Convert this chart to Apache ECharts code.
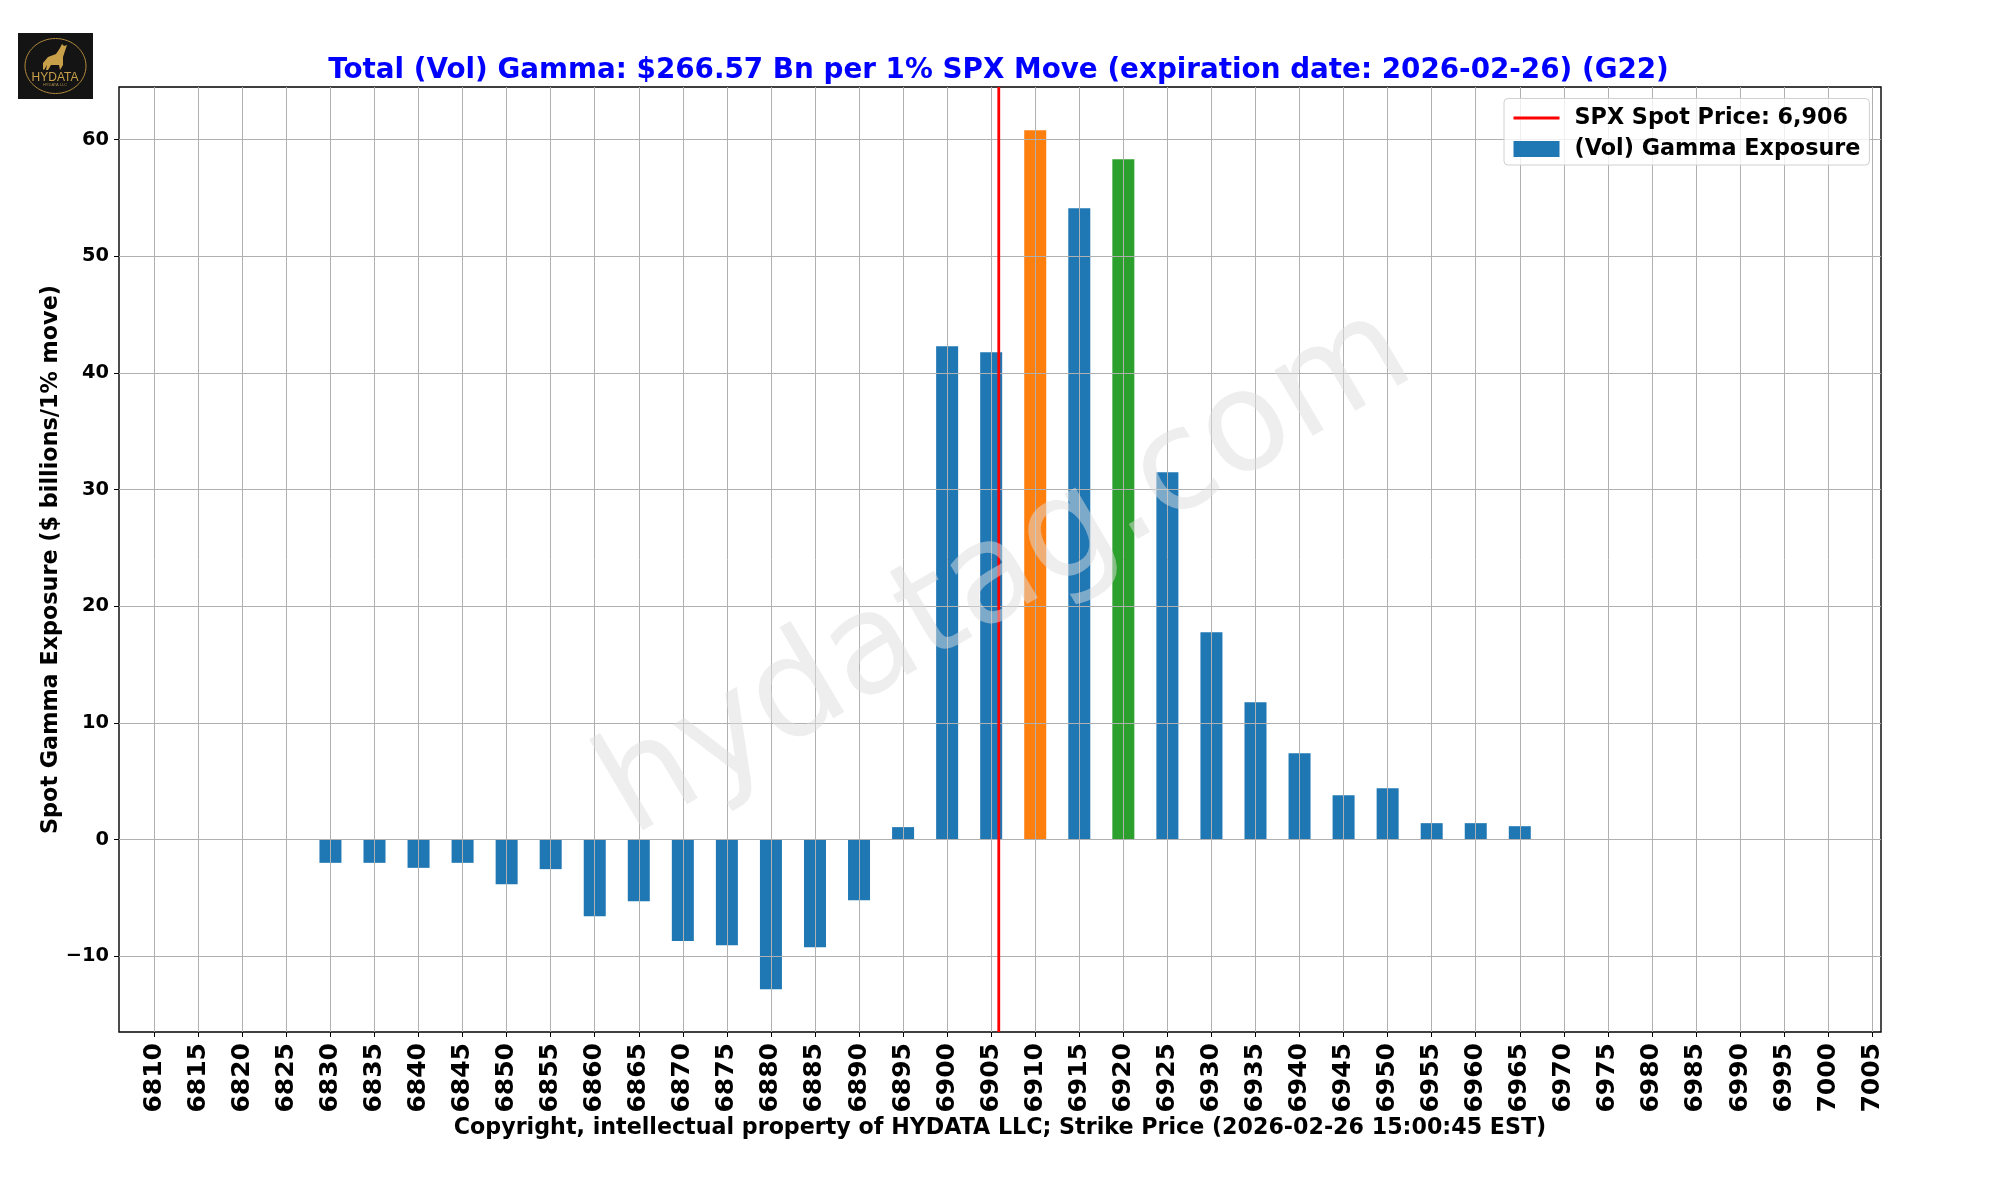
<!DOCTYPE html>
<html>
<head>
<meta charset="utf-8">
<title>Total (Vol) Gamma</title>
<script src="https://cdn.jsdelivr.net/npm/echarts@6/dist/echarts.min.js"></script>
<style>
html, body { margin: 0; padding: 0; background: #fff; }
#chart { width: 2000px; height: 1200px; }
</style>
</head>
<body>
<div id="chart"></div>
<script>
var strikes = [6830, 6835, 6840, 6845, 6850, 6855, 6860, 6865, 6870, 6875, 6880, 6885, 6890, 6895, 6900, 6905, 6910, 6915, 6920, 6925, 6930, 6935, 6940, 6945, 6950, 6955, 6960, 6965];
var gamma = [-2.0, -2.0, -2.43, -2.0, -3.83, -2.54, -6.57, -5.29, -8.71, -9.06, -12.83, -9.23, -5.2, 1.06, 42.28, 41.77, 60.8, 54.1, 58.3, 31.48, 17.77, 11.77, 7.4, 3.8, 4.4, 1.4, 1.4, 1.14];
var xTicks = [6810, 6815, 6820, 6825, 6830, 6835, 6840, 6845, 6850, 6855, 6860, 6865, 6870, 6875, 6880, 6885, 6890, 6895, 6900, 6905, 6910, 6915, 6920, 6925, 6930, 6935, 6940, 6945, 6950, 6955, 6960, 6965, 6970, 6975, 6980, 6985, 6990, 6995, 7000, 7005];
var yTicks = [-10, 0, 10, 20, 30, 40, 50, 60];
var spotPrice = 6905.86;
var orangeStrike = 6910;
var greenStrike = 6920;

var yMin = -16.5;
var yMax = 64.5;
var font = 'DejaVu Sans';

var barData = [];
for (var i = 0; i < strikes.length; i++) {
    var color = '#1f77b4';
    if (strikes[i] === orangeStrike) {
        color = '#ff7f0e';
    }
    if (strikes[i] === greenStrike) {
        color = '#2ca02c';
    }
    barData.push({value: [strikes[i], gamma[i]], itemStyle: {color: color}});
}

var myChart = echarts.init(document.getElementById('chart'), null, {renderer: 'canvas'});
myChart.setOption({
    animation: false,
    backgroundColor: '#fff',
    title: {
        text: 'Total (Vol) Gamma: $266.57 Bn per 1% SPX Move (expiration date: 2026-02-26) (G22)',
        left: 998.5,
        top: 57,
        textAlign: 'center',
        padding: 0,
        textStyle: {color: '#0000ff', fontFamily: font, fontWeight: 'bold', fontSize: 27.8}
    },
    legend: {
        orient: 'vertical',
        left: 1504,
        top: 98.5,
        padding: [8.5, 9, 5, 8],
        itemWidth: 46,
        itemHeight: 16,
        itemGap: 9,
        z: 20,
        backgroundColor: 'rgba(255,255,255,0.8)',
        borderColor: '#d0d0d0',
        borderWidth: 1,
        borderRadius: 4,
        selectedMode: false,
        textStyle: {color: '#000', fontFamily: font, fontWeight: 'bold', fontSize: 22.3, padding: [0, 0, 0, 10]},
        data: [
            {name: 'SPX Spot Price: 6,906', itemStyle: {opacity: 0}, lineStyle: {width: 3, color: '#ff0000'}},
            {name: '(Vol) Gamma Exposure', icon: 'rect'}
        ]
    },
    grid: {
        left: 119,
        right: 119,
        top: 87,
        bottom: 168,
        show: true,
        borderColor: '#000',
        borderWidth: 1.4,
        backgroundColor: '#fff'
    },
    xAxis: {
        type: 'value',
        min: 6806,
        max: 7006,
        z: 5,
        name: 'Copyright, intellectual property of HYDATA LLC; Strike Price (2026-02-26 15:00:45 EST)',
        nameLocation: 'middle',
        nameGap: 85,
        nameMoveOverlap: false,
        nameTextStyle: {color: '#000', fontFamily: font, fontWeight: 'bold', fontSize: 22.2},
        axisLine: {show: false, onZero: false},
        axisTick: {show: true, length: 5, customValues: xTicks, lineStyle: {color: '#000', width: 1}},
        axisLabel: {
            customValues: xTicks,
            rotate: 90,
            margin: 11,
            color: '#000',
            fontFamily: font,
            fontWeight: 'bold',
            fontSize: 25,
            formatter: function (v) {
                return String(v);
            }
        },
        splitLine: {show: true, lineStyle: {color: '#b0b0b0', width: 1}}
    },
    yAxis: {
        type: 'value',
        min: yMin,
        max: yMax,
        z: 5,
        name: 'Spot Gamma Exposure ($ billions/1% move)',
        nameLocation: 'middle',
        nameGap: 57,
        nameMoveOverlap: false,
        nameTextStyle: {color: '#000', fontFamily: font, fontWeight: 'bold', fontSize: 22.3},
        axisLine: {show: false},
        axisTick: {show: true, length: 5, customValues: yTicks, lineStyle: {color: '#000', width: 1}},
        axisLabel: {
            customValues: yTicks,
            margin: 10,
            color: '#000',
            fontFamily: font,
            fontWeight: 'bold',
            fontSize: 19.4,
            formatter: function (v) {
                return String(v).replace('-', '\u2212');
            }
        },
        splitLine: {show: true, lineStyle: {color: '#b0b0b0', width: 1.2}}
    },
    series: [{
        name: 'SPX Spot Price: 6,906',
        type: 'line',
        symbol: 'none',
        z: 8,
        silent: true,
        itemStyle: {color: '#ff0000'},
        lineStyle: {color: '#ff0000', width: 2.8},
        data: [[spotPrice, yMin], [spotPrice, yMax]]
    }, {
        name: '(Vol) Gamma Exposure',
        type: 'bar',
        barWidth: 22,
        z: 2,
        itemStyle: {color: '#1f77b4'},
        data: barData
    }],
    graphic: [{
        // marca de agua
        type: 'text',
        z: 10,
        silent: true,
        x: 1007,
        y: 574,
        rotation: 30.5 * Math.PI / 180,
        style: {
            text: 'hydatag.com',
            x: 0,
            y: 0,
            align: 'center',
            verticalAlign: 'middle',
            fontFamily: font,
            fontSize: 139,
            fill: 'rgba(222,222,222,0.5)'
        }
    }, {
        // logo
        type: 'group',
        x: 18,
        y: 33,
        z: 30,
        children: [{
            type: 'rect',
            shape: {x: 0, y: 0, width: 75, height: 66},
            style: {fill: '#141414'}
        }, {
            type: 'ellipse',
            shape: {cx: 37.5, cy: 33, rx: 30.5, ry: 27.5},
            style: {fill: 'none', stroke: '#b08a3c', lineWidth: 1}
        }, {
            type: 'polygon',
            shape: {points: [[25, 30], [30, 24], [38, 21], [42, 15], [44, 11], [46, 13], [49, 12], [47, 18], [45, 24], [45, 32], [42, 37], [41, 32], [33, 32], [30, 37], [28, 37], [29, 32], [26, 37], [25, 36]]},
            style: {fill: '#c9a04a'}
        }, {
            type: 'text',
            style: {text: 'HYDATA', x: 37, y: 44.5, align: 'center', verticalAlign: 'middle', fontFamily: 'Liberation Sans', fontSize: 12, fill: '#c9a04a'}
        }, {
            type: 'text',
            style: {text: 'HYDATA LLC', x: 37, y: 52, align: 'center', verticalAlign: 'middle', fontFamily: 'Liberation Sans', fontSize: 4, fill: '#a88a4a'}
        }]
    }]
});
</script>
</body>
</html>
